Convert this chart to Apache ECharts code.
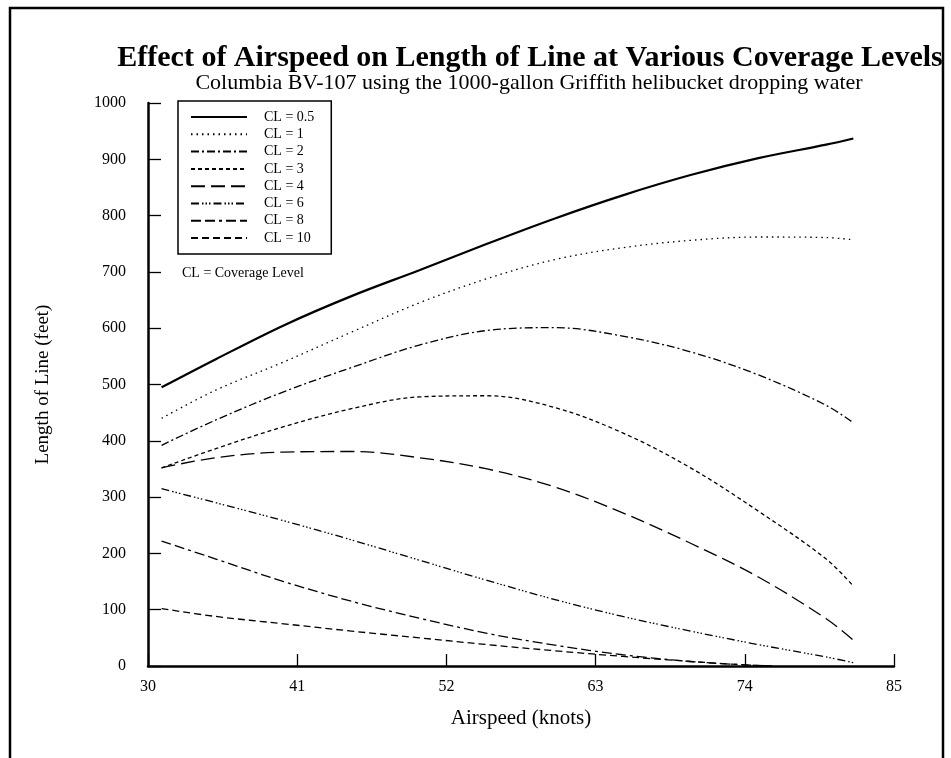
<!DOCTYPE html>
<html>
<head>
<meta charset="utf-8">
<script src="https://cdn.jsdelivr.net/npm/echarts@6/dist/echarts.min.js"></script>
<style>
html,body{margin:0;padding:0;background:#fff;}
#chart{width:951px;height:758px;}
</style>
</head>
<body>
<div id="chart"></div>
<script>
// ---- data ----
const xTicks = [30, 41, 52, 63, 74, 85];
const airspeed = [31, 35, 40, 45, 50, 55, 60, 65, 70, 75, 80, 82];
const airspeedLow = [31, 35, 40, 45, 50, 55, 60, 65, 70, 74, 76];
const cl05 = [495, 545, 605, 657, 703, 750, 795, 836, 872, 902, 926, 937];
const cl1  = [440, 490, 540, 593, 645, 688, 722, 743, 756, 762, 761, 757];
const cl2  = [392, 437, 487, 530, 570, 596, 601, 586, 558, 517, 463, 432];
const cl3  = [352, 386, 425, 457, 478, 480, 459, 414, 352, 275, 190, 142];
const cl4  = [352, 370, 380, 381, 370, 350, 318, 272, 218, 158, 84, 46];
const cl6  = [315, 290, 258, 224, 188, 152, 118, 88, 62, 38, 16, 6];
const cl8  = [222, 190, 150, 115, 85, 58, 37, 20, 8, 2, 0];
const cl10 = [102, 88, 75, 62, 50, 38, 27, 17, 8, 2, 0];
const seriesNames = ['CL = 0.5', 'CL = 1', 'CL = 2', 'CL = 3', 'CL = 4', 'CL = 6', 'CL = 8', 'CL = 10'];

const FONT = 'Liberation Serif, Times New Roman, serif';
const zip = (xs, ys) => xs.map((x, i) => [x, ys[i]]);

const styles = [
  {width: 2.2, type: 'solid'},
  {width: 1.3, type: [1.5, 4]},
  {width: 1.3, type: [8, 3, 2, 3]},
  {width: 1.3, type: [4, 3]},
  {width: 1.3, type: [14, 6]},
  {width: 1.3, type: [8, 3, 1.5, 2, 1.5, 2, 1.5, 3]},
  {width: 1.3, type: [10, 4, 10, 4, 3, 4]},
  {width: 1.3, type: [7, 4]}
];
const dataSets = [
  zip(airspeed, cl05), zip(airspeed, cl1), zip(airspeed, cl2), zip(airspeed, cl3),
  zip(airspeed, cl4), zip(airspeed, cl6), zip(airspeedLow, cl8), zip(airspeedLow, cl10)
];

const chart = echarts.init(document.getElementById('chart'), null, {renderer: 'canvas'});
chart.setOption({
  backgroundColor: '#fff',
  animation: false,
  textStyle: {fontFamily: FONT, color: '#000'},
  title: [
    {text: 'Effect of Airspeed on Length of Line at Various Coverage Levels', left: 525, textAlign: 'center', top: 38,
     textStyle: {fontFamily: FONT, fontSize: 30, fontWeight: 'bold', color: '#000'}},
    {text: 'Columbia BV-107 using the 1000-gallon Griffith helibucket dropping water', left: 524, textAlign: 'center', top: 67,
     textStyle: {fontFamily: FONT, fontSize: 22, fontWeight: 'normal', color: '#000'}}
  ],
  legend: {
    orient: 'vertical', left: 178, top: 101,
    data: seriesNames,
    itemWidth: 56, itemHeight: 12, itemGap: 3.3,
    padding: [9, 17, 9, 12],
    borderColor: '#000', borderWidth: 1.5,
    itemStyle: {opacity: 0},
    textStyle: {fontFamily: FONT, fontSize: 14, color: '#000', padding: [0, 0, 0, 12]},
    selectedMode: false
  },
  grid: {left: 148, right: 57, top: 103, bottom: 92, containLabel: false},
  xAxis: {
    type: 'value', min: 30, max: 85, interval: 11,
    name: 'Airspeed (knots)', nameLocation: 'middle', nameGap: 42,
    nameTextStyle: {fontFamily: FONT, fontSize: 21, color: '#000'},
    axisLine: {lineStyle: {color: '#000', width: 2.5}},
    axisTick: {inside: true, length: 12, lineStyle: {color: '#000', width: 1.3}},
    axisLabel: {fontFamily: FONT, fontSize: 16, color: '#000', margin: 13},
    splitLine: {show: false}
  },
  yAxis: {
    type: 'value', min: 0, max: 1000, interval: 100,
    name: 'Length of Line (feet)', nameLocation: 'middle', nameGap: 95, nameRotate: 90,
    nameTextStyle: {fontFamily: FONT, fontSize: 19, color: '#000'},
    axisLine: {lineStyle: {color: '#000', width: 2.5}},
    axisTick: {inside: true, length: 13, lineStyle: {color: '#000', width: 1.3}},
    axisLabel: {fontFamily: FONT, fontSize: 16, color: '#000', margin: 22, formatter: v => String(v)},
    splitLine: {show: false}
  },
  graphic: [
    {type: 'rect', shape: {x: 10, y: 8, width: 933, height: 800}, style: {fill: 'none', stroke: '#000', lineWidth: 2.5}, silent: true},
    {type: 'text', left: 182, top: 266, style: {text: 'CL = Coverage Level', font: '14px ' + FONT, fill: '#000'}}
  ],
  series: seriesNames.map((n, i) => ({
    name: n, type: 'line', data: dataSets[i], smooth: 0.35, symbol: 'none', showSymbol: false,
    lineStyle: {color: '#000', width: styles[i].width, type: styles[i].type},
    itemStyle: {color: '#000'}
  }))
});
</script>
</body>
</html>
